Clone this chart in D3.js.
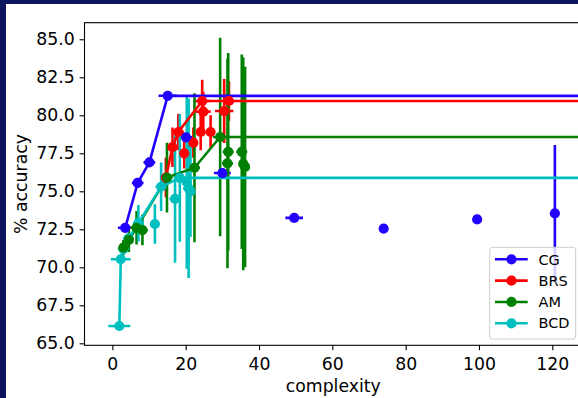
<!DOCTYPE html>
<html><head><meta charset="utf-8">
<script src="https://cdn.jsdelivr.net/npm/d3@7"></script>
<style>html,body{margin:0;padding:0;background:#fff;} svg{display:block;}</style>
</head><body><svg id="chart" width="578" height="398"></svg>
<script>
// ---------- data ----------
const seriesNames = ["CG", "BRS", "AM", "BCD"];
const seriesColors = ["#2200ff", "#ff0000", "#008000", "#00bfbf"];

const cgComplexity    = [3.5, 6.9, 10.1, 15.1, 20.1, 30.0, 49.6, 74.0, 99.5, 120.7];
const cgAccuracy      = [72.6, 75.55, 76.9, 81.28, 78.55, 76.2, 73.25, 72.55, 73.15, 73.55];
const cgComplexityErr = [2.0, 1.6, 1.6, 2.5, 1.8, 2.3, 2.4, 0.8, 1.0, 0.4];
const cgAccuracyErr   = [0.3, 0.3, 0.3, 0.2, 0.3, 0.3, 0.2, 0.2, 0.2, 4.5];

const brsComplexity    = [14.6, 16.4, 18.0, 19.6, 22.1, 24.1, 24.5, 24.8, 26.8, 30.5, 31.8];
const brsAccuracy      = [75.9, 77.9, 78.9, 77.5, 78.2, 78.9, 80.94, 80.24, 78.9, 80.28, 80.94];
const brsComplexityErr = [1.0, 1.5, 1.5, 1.0, 1.2, 1.2, 2.2, 2.0, 1.2, 2.5, 1.5];
const brsAccuracyErr   = [1.3, 1.3, 1.2, 1.0, 1.0, 1.2, 1.4, 1.3, 1.1, 2.1, 1.3];

const amComplexity    = [3.0, 4.5, 6.6, 8.2, 14.9, 22.4, 29.4, 31.4, 31.6, 35.3, 35.7, 36.2];
const amAccuracy      = [71.3, 71.8, 72.6, 72.45, 75.9, 76.55, 78.57, 76.84, 77.6, 77.6, 76.8, 76.6];
const amComplexityErr = [1.0, 1.2, 2.0, 1.5, 1.5, 1.5, 2.0, 1.5, 1.5, 1.5, 1.2, 1.0];
const amAccuracyErr   = [0.5, 0.8, 1.1, 1.0, 2.3, 4.9, 6.53, 6.9, 6.5, 6.4, 7.0, 6.6];

const bcdComplexity    = [1.9, 2.3, 3.0, 4.4, 7.1, 11.6, 13.3, 17.1, 18.4, 20.3, 20.8, 21.3];
const bcdAccuracy      = [66.14, 70.53, 71.2, 71.9, 72.9, 72.85, 75.3, 74.5, 75.88, 75.6, 75.2, 75.0];
const bcdComplexityErr = [3.0, 2.7, 1.5, 1.5, 1.5, 1.0, 1.5, 1.5, 1.5, 1.2, 1.5, 1.0];
const bcdAccuracyErr   = [0.3, 0.3, 0.3, 0.3, 1.2, 1.3, 1.6, 4.2, 4.2, 5.7, 5.9, 3.0];

const xTicks = [0, 20, 40, 60, 80, 100, 120];
const yTicks = [65.0, 67.5, 70.0, 72.5, 75.0, 77.5, 80.0, 82.5, 85.0];
const xLabel = "complexity";
const yLabel = "% accuracy";

// ---------- build ----------
const series = [
  {xs: cgComplexity, ys: cgAccuracy, xe: cgComplexityErr, ye: cgAccuracyErr},
  {xs: brsComplexity, ys: brsAccuracy, xe: brsComplexityErr, ye: brsAccuracyErr},
  {xs: amComplexity, ys: amAccuracy, xe: amComplexityErr, ye: amAccuracyErr},
  {xs: bcdComplexity, ys: bcdAccuracy, xe: bcdComplexityErr, ye: bcdAccuracyErr}
].map((s, i) => Object.assign(s, {name: seriesNames[i], color: seriesColors[i]}));

const svg = d3.select('#chart');
svg.append('rect').attr('width', 578).attr('height', 398).attr('fill', '#0b165e');
svg.append('rect').attr('x', 6).attr('y', 4).attr('width', 572).attr('height', 394).attr('fill', '#fff');

const L = 84.5, T = 22.7, R = 582, B = 345.3;
const x = d3.scaleLinear().domain([-7.6, 128.1]).range([L, R]);
const y = d3.scaleLinear().domain([64.87, 86.09]).range([B, T]);
const FONT = "'DejaVu Sans', Verdana, sans-serif";
const FS = '17.3px';

svg.append('defs').append('clipPath').attr('id', 'clip')
  .append('rect').attr('x', L).attr('y', T).attr('width', R - L).attr('height', B - T);

const plot = svg.append('g').attr('clip-path', 'url(#clip)');
const LW = 2.6;
const MR = 5.1;

// error bars
series.forEach(s => {
  const g = plot.append('g').attr('stroke', s.color).attr('stroke-width', LW);
  s.xs.forEach((v, i) => {
    g.append('line').attr('x1', x(v)).attr('x2', x(v))
      .attr('y1', y(s.ys[i] - s.ye[i])).attr('y2', y(s.ys[i] + s.ye[i]));
    g.append('line').attr('x1', x(v - s.xe[i])).attr('x2', x(v + s.xe[i]))
      .attr('y1', y(s.ys[i])).attr('y2', y(s.ys[i]));
  });
});

// best-so-far (frontier) lines, extended to the right edge
const line = d3.line().x(d => x(d[0])).y(d => y(d[1]));
series.forEach(s => {
  const idx = d3.range(s.xs.length).sort((a, b) => s.xs[a] - s.xs[b]);
  let best = -Infinity; const pts = [];
  idx.forEach(i => { if (s.ys[i] > best) { best = s.ys[i]; pts.push([s.xs[i], s.ys[i]]); } });
  pts.push([x.domain()[1] + 5, best]);
  plot.append('path').datum(pts).attr('d', line)
    .attr('fill', 'none').attr('stroke', s.color).attr('stroke-width', LW);
});

// markers
[3, 1, 2, 0].forEach(k => {
  const s = series[k];
  plot.append('g').selectAll('circle').data(s.xs.map((v, i) => [v, s.ys[i]])).join('circle')
    .attr('cx', d => x(d[0])).attr('cy', d => y(d[1])).attr('r', MR).attr('fill', s.color);
});

// axes
const yAxis = d3.axisLeft(y).tickValues(yTicks).tickFormat(d => d.toFixed(1))
  .tickSize(4.9).tickSizeOuter(0).tickPadding(4.9);
const xAxis = d3.axisBottom(x).tickValues(xTicks).tickFormat(d3.format('d'))
  .tickSize(4.9).tickSizeOuter(0).tickPadding(7.5);
const gy = svg.append('g').attr('transform', `translate(${L},0)`).call(yAxis);
const gx = svg.append('g').attr('transform', `translate(0,${B})`).call(xAxis);
[gx, gy].forEach(g => {
  g.select('.domain').remove();
  g.selectAll('line').attr('stroke', '#000').attr('stroke-width', 1.1);
  g.selectAll('text').attr('fill', '#000').style('font-family', FONT).style('font-size', FS);
});
svg.append('rect').attr('x', L).attr('y', T).attr('width', R - L).attr('height', B - T)
  .attr('fill', 'none').attr('stroke', '#000').attr('stroke-width', 1.1);

svg.append('text').attr('x', (L + R) / 2).attr('y', 392).attr('text-anchor', 'middle')
  .style('font-family', FONT).style('font-size', FS).text(xLabel);
svg.append('text').attr('transform', `translate(27,${(T + B) / 2}) rotate(-90)`).attr('text-anchor', 'middle')
  .style('font-family', FONT).style('font-size', FS).text(yLabel);

// legend
const lg = svg.append('g');
lg.append('rect').attr('x', 489.7).attr('y', 247.3).attr('width', 86).attr('height', 91.7).attr('rx', 3)
  .attr('fill', '#fff').attr('fill-opacity', 0.8).attr('stroke', '#cccccc').attr('stroke-width', 1);
series.forEach((s, i) => {
  const cy = 259.3 + i * 21.33;
  lg.append('line').attr('x1', 495).attr('x2', 527.7).attr('y1', cy).attr('y2', cy)
    .attr('stroke', s.color).attr('stroke-width', LW);
  lg.append('circle').attr('cx', 511.5).attr('cy', cy).attr('r', MR).attr('fill', s.color);
  lg.append('text').attr('x', 538.5).attr('y', cy + 5.2).style('font-family', FONT)
    .style('font-size', '14.5px').attr('fill', '#000').text(s.name);
});
</script></body></html>
